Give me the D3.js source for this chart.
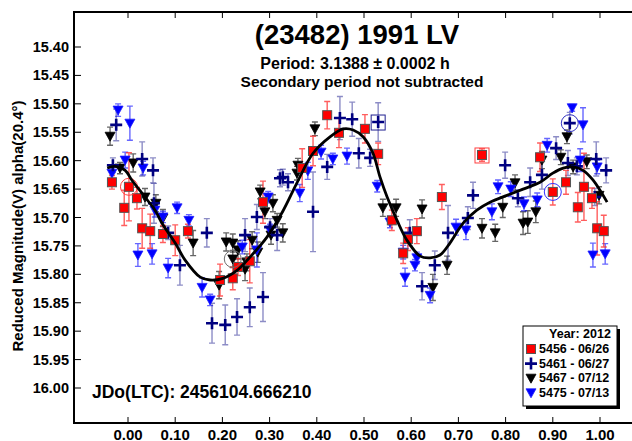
<!DOCTYPE html>
<html><head><meta charset="utf-8">
<script src="https://cdn.jsdelivr.net/npm/d3@7"></script>
<style>body{margin:0;background:#fff}svg{display:block;font-family:"Liberation Sans",Arial,sans-serif;font-weight:bold}</style>
</head><body><svg id="c" width="632" height="441"></svg>
<script>
// [phase, reduced magnitude, error]
const s5456 = [
[-0.034,15.638,0.012],[0.002,15.646,0.060],[-0.008,15.683,0.031],[0.019,15.666,0.019],
[0.030,15.719,0.035],[0.047,15.724,0.030],[0.074,15.729,0.015],[0.100,15.740,0.027],
[0.127,15.724,0.012],[0.195,15.810,0.028],[0.222,15.807,0.020],[0.233,15.787,0.015],
[0.258,15.777,0.038],[0.286,15.673,0.037],[0.369,15.613,0.034],[0.392,15.583,0.026],
[0.422,15.520,0.024],[0.447,15.551,0.026],[0.502,15.544,0.025],[0.530,15.588,0.019],
[0.559,15.705,0.018],[0.583,15.763,0.018],[0.593,15.738,0.020],[0.612,15.724,0.022],
[0.665,15.664,0.022],[0.750,15.590,0.011],[0.873,15.594,0.025],[0.900,15.655,0.023],
[0.928,15.638,0.021],[0.966,15.646,0.059],[0.953,15.682,0.026],[0.983,15.666,0.018],
[0.994,15.719,0.047],[1.008,15.724,0.028]
];
const s5461 = [
[-0.025,15.537,0.028],[-0.032,15.608,0.013],[0.030,15.597,0.030],[0.053,15.617,0.022],
[0.055,15.675,0.035],[0.085,15.727,0.012],[0.167,15.727,0.025],[0.110,15.784,0.035],
[0.178,15.886,0.035],[0.206,15.889,0.035],[0.231,15.875,0.032],[0.258,15.858,0.034],
[0.286,15.840,0.043],[0.248,15.731,0.029],[0.273,15.699,0.022],[0.316,15.731,0.027],
[0.328,15.629,0.014],[0.339,15.638,0.015],[0.322,15.631,0.015],[0.392,15.690,0.070],
[0.422,15.611,0.022],[0.449,15.525,0.038],[0.475,15.527,0.030],[0.489,15.587,0.026],
[0.513,15.595,0.015],[0.530,15.532,0.034],[0.597,15.727,0.023],[0.623,15.821,0.024],
[0.650,15.784,0.025],[0.678,15.727,0.048],[0.720,15.701,0.020],[0.731,15.661,0.023],
[0.799,15.608,0.023],[0.826,15.666,0.015],[0.852,15.638,0.025],[0.877,15.625,0.025],
[0.907,15.578,0.020],[0.936,15.534,0.019],[0.932,15.604,0.022],[0.951,15.610,0.015],
[0.992,15.597,0.030],[1.013,15.617,0.022],[0.989,15.664,0.015],[0.301,15.717,0.015]
];
const s5467 = [
[-0.038,15.557,0.016],[0.011,15.604,0.016],[-0.017,15.613,0.010],[0.036,15.664,0.015],
[0.059,15.675,0.015],[0.074,15.701,0.015],[0.138,15.745,0.022],[0.193,15.819,0.024],
[0.208,15.743,0.016],[0.222,15.745,0.016],[0.233,15.757,0.016],[0.222,15.773,0.015],
[0.248,15.791,0.020],[0.263,15.740,0.015],[0.280,15.655,0.012],[0.290,15.690,0.012],
[0.307,15.675,0.015],[0.303,15.731,0.016],[0.316,15.705,0.012],[0.328,15.727,0.016],
[0.358,15.622,0.012],[0.360,15.608,0.012],[0.396,15.544,0.012],[0.540,15.683,0.015],
[0.568,15.683,0.015],[0.623,15.685,0.016],[0.646,15.823,0.023],[0.676,15.784,0.016],
[0.750,15.719,0.017],[0.778,15.727,0.015],[0.794,15.682,0.018],[0.820,15.639,0.014],
[0.837,15.710,0.020],[0.847,15.708,0.020],[0.864,15.690,0.019],[0.877,15.599,0.015],
[0.917,15.594,0.013],[0.930,15.558,0.012],[0.943,15.611,0.012],[0.972,15.602,0.012],
[0.998,15.661,0.015],[0.275,15.761,0.018],[0.252,15.779,0.015]
];
const s5475 = [
[-0.021,15.511,0.011],[0.004,15.534,0.030],[-0.006,15.599,0.014],[0.032,15.613,0.012],
[-0.034,15.622,0.010],[0.021,15.766,0.020],[0.051,15.764,0.018],[0.057,15.687,0.012],
[0.074,15.699,0.010],[0.104,15.683,0.010],[0.129,15.705,0.010],[0.085,15.789,0.017],
[0.157,15.823,0.017],[0.174,15.845,0.010],[0.242,15.752,0.012],[0.273,15.757,0.030],
[0.297,15.664,0.010],[0.301,15.722,0.010],[0.364,15.657,0.015],[0.381,15.618,0.015],
[0.409,15.585,0.012],[0.434,15.597,0.010],[0.464,15.592,0.014],[0.528,15.645,0.010],
[0.555,15.708,0.010],[0.583,15.761,0.012],[0.612,15.771,0.010],[0.587,15.805,0.016],
[0.608,15.784,0.010],[0.640,15.837,0.013],[0.695,15.717,0.014],[0.716,15.722,0.017],
[0.771,15.690,0.014],[0.784,15.646,0.012],[0.811,15.650,0.013],[0.839,15.676,0.012],
[0.867,15.669,0.012],[0.888,15.573,0.012],[0.941,15.507,0.006],[0.964,15.537,0.030],
[0.958,15.599,0.020],[0.994,15.611,0.012],[0.985,15.766,0.021],[1.011,15.764,0.018]
];
// Fourier fit curve
const curvePhase = [-0.044,-0.028,-0.006,0.008,0.036,0.057,0.072,0.100,0.121,0.153,0.174,0.201,0.231,0.258,0.294,0.328,0.358,0.392,0.428,0.456,0.477,0.498,0.519,0.534,0.549,0.570,0.591,0.619,0.640,0.661,0.682,0.710,0.739,0.767,0.803,0.837,0.873,0.900,0.922,0.943,0.964,0.985,1.015];
const curveMag = [15.613,15.610,15.617,15.634,15.664,15.687,15.710,15.745,15.775,15.805,15.810,15.807,15.793,15.770,15.735,15.689,15.639,15.587,15.558,15.544,15.546,15.558,15.587,15.629,15.664,15.705,15.740,15.768,15.771,15.766,15.745,15.710,15.687,15.673,15.661,15.650,15.638,15.622,15.613,15.611,15.617,15.634,15.673];
// highlighted points: [series, index, colour]
const circled = [["5456",1,"#ff4040"],["5456",27,"#3030ff"],["5461",37,"#3030c0"],["5467",11,"#707070"]];
const boxed = [["5461",25,"#202090"],["5456",25,"#ff4040"]];

const xTickValues = [0,0.1,0.2,0.3,0.4,0.5,0.6,0.7,0.8,0.9,1.0];
const yTickValues = [15.40,15.45,15.50,15.55,15.60,15.65,15.70,15.75,15.80,15.85,15.90,15.95,16.00];
const legendTitle = "Year: 2012";
const legendLabels = ["5456 - 06/26","5461 - 06/27","5467 - 07/12","5475 - 07/13"];

const svg = d3.select("#c");
const x = d3.scaleLinear().domain([0,1]).range([128,600]);
const y = d3.scaleLinear().domain([15.4,16.0]).range([47,388]);
const L=74, T=12, B=423, R=640;

const series = {
  "5456":{data:s5456, shape:"square", fill:"#ff0000", stroke:"#555", err:"rgba(255,40,40,0.75)"},
  "5461":{data:s5461, shape:"plus", fill:"none", stroke:"#000080", err:"rgba(0,0,128,0.45)"},
  "5467":{data:s5467, shape:"tri", fill:"#000000", stroke:"#000", err:"rgba(0,0,0,0.6)"},
  "5475":{data:s5475, shape:"tri", fill:"#0000ff", stroke:"#2020ff", err:"rgba(0,0,255,0.6)"}
};
const order = ["5467","5475","5461","5456"];

function drawMarker(g, shape, fill, stroke){
  if(shape==="square") g.append("rect").attr("x",-4.5).attr("y",-4.5).attr("width",9).attr("height",9).attr("fill",fill).attr("stroke",stroke).attr("stroke-width",1);
  else if(shape==="plus") g.append("path").attr("d","M-6,0H6M0,-6V6").attr("stroke",stroke).attr("stroke-width",2.6).attr("fill","none");
  else g.append("path").attr("d","M-5,-4L5,-4L0,5Z").attr("fill",fill).attr("stroke",stroke).attr("stroke-width",0.8);
}

// error bars
const eb = svg.append("g");
order.forEach(k=>{
  const s = series[k];
  s.data.forEach(d=>{
    const x0=x(d[0]), y1=y(d[1]-d[2]), y2=y(d[1]+d[2]);
    eb.append("path").attr("d",`M${x0},${y1}V${y2}M${x0-3},${y1}H${x0+3}M${x0-3},${y2}H${x0+3}`)
      .attr("stroke",s.err).attr("stroke-width",1.4).attr("fill","none");
  });
});
// markers
order.forEach(k=>{
  const s = series[k];
  s.data.forEach(d=>{
    const g = svg.append("g").attr("transform",`translate(${x(d[0])},${y(d[1])})`);
    drawMarker(g, s.shape, s.fill, s.stroke);
  });
});
circled.forEach(c=>{
  const d = series[c[0]].data[c[1]];
  svg.append("circle").attr("cx",x(d[0])).attr("cy",y(d[1])).attr("r",8.5).attr("fill","none").attr("stroke",c[2]).attr("stroke-width",1);
});
boxed.forEach(c=>{
  const d = series[c[0]].data[c[1]];
  svg.append("rect").attr("x",x(d[0])-7).attr("y",y(d[1])-7).attr("width",14).attr("height",15).attr("fill","none").attr("stroke",c[2]).attr("stroke-width",1);
});
// curve
svg.append("path").datum(curvePhase.map((p,i)=>[p,curveMag[i]]))
  .attr("d", d3.line().x(d=>x(d[0])).y(d=>y(d[1])).curve(d3.curveCatmullRom))
  .attr("fill","none").attr("stroke","#000").attr("stroke-width",2.8);

// frame
svg.append("path").attr("d",`M${R},${T}H${L}V${B}H${R}`).attr("fill","none").attr("stroke","#000").attr("stroke-width",2);
// ticks
xTickValues.forEach(v=>{
  svg.append("line").attr("x1",x(v)).attr("x2",x(v)).attr("y1",T).attr("y2",T+6).attr("stroke","#000").attr("stroke-width",1);
  svg.append("line").attr("x1",x(v)).attr("x2",x(v)).attr("y1",B).attr("y2",B-6).attr("stroke","#000").attr("stroke-width",1);
  svg.append("text").attr("x",x(v)).attr("y",439.5).attr("text-anchor","middle")
    .attr("font-size",15).text(v.toFixed(2));
});
yTickValues.forEach(v=>{
  svg.append("line").attr("x1",L).attr("x2",L+7).attr("y1",y(v)).attr("y2",y(v)).attr("stroke","#000").attr("stroke-width",1);
  svg.append("text").attr("x",69).attr("y",y(v)).attr("text-anchor","end").attr("dominant-baseline","central")
    .attr("font-size",14.5).text(v.toFixed(2));
});
// titles
svg.append("text").attr("x",357).attr("y",34).attr("text-anchor","middle").attr("dominant-baseline","central").attr("font-size",27.5).text("(23482) 1991 LV");
svg.append("text").attr("x",355).attr("y",63).attr("text-anchor","middle").attr("dominant-baseline","central").attr("font-size",16).text("Period: 3.1388 ± 0.0002 h");
svg.append("text").attr("x",362).attr("y",81).attr("text-anchor","middle").attr("dominant-baseline","central").attr("font-size",15.5).text("Secondary period not subtracted");
svg.append("text").attr("transform","translate(17,226) rotate(-90)").attr("text-anchor","middle").attr("dominant-baseline","central").attr("font-size",15).text("Reduced Magnitude(V) alpha(20.4°)");
svg.append("text").attr("x",92).attr("y",392).attr("dominant-baseline","central").attr("font-size",17.5).text("JDo(LTC): 2456104.666210");

// legend
const lg = svg.append("g");
lg.append("rect").attr("x",526).attr("y",329).attr("width",94).attr("height",80).attr("fill","#000");
lg.append("rect").attr("x",523).attr("y",326).attr("width",94).attr("height",80).attr("fill","#fff").attr("stroke","#000").attr("stroke-width",1);
lg.append("text").attr("x",580).attr("y",334).attr("text-anchor","middle").attr("dominant-baseline","central").attr("font-size",12.5).text(legendTitle);
order.slice().sort().forEach((k,i)=>{
  const yy = 349 + i*14.6;
  const s = series[k];
  const g = lg.append("g").attr("transform",`translate(531,${yy})`);
  drawMarker(g, s.shape, s.fill, s.stroke);
  lg.append("text").attr("x",539).attr("y",yy).attr("dominant-baseline","central").attr("font-size",12.5).text(legendLabels[i]);
});
</script></body></html>
